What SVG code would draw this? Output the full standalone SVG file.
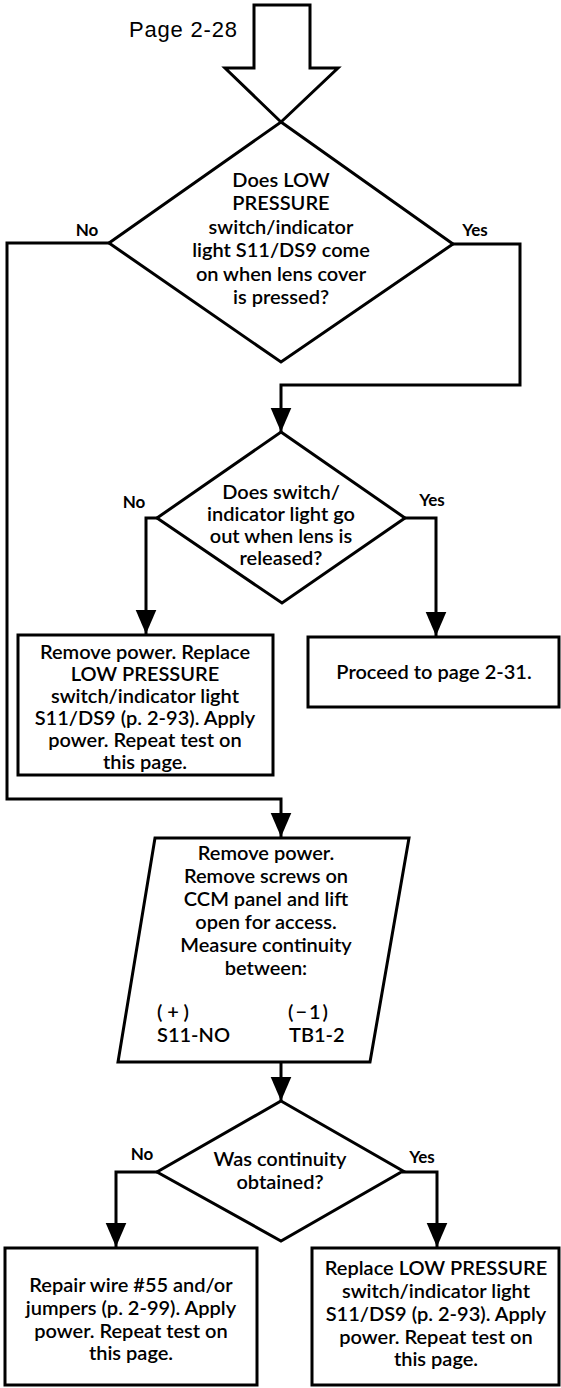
<svg xmlns="http://www.w3.org/2000/svg" width="561" height="1388" viewBox="0 0 561 1388">
<defs>
<style>
.s{fill:#fff;stroke:#000;stroke-width:3;stroke-linejoin:miter}
.c{fill:none;stroke:#000;stroke-width:3}
.t{font-family:Lato,"Open Sans",sans-serif;font-size:20px;font-weight:600;fill:#000;text-anchor:middle}
.u{font-family:Lato,"Open Sans",sans-serif;font-size:20px;font-weight:600;fill:#000}
.l{font-family:Lato,"Open Sans",sans-serif;font-size:17px;font-weight:700;fill:#000;text-anchor:middle}
.p{font-family:"Liberation Sans",Arial,sans-serif;font-size:22px;fill:#000}
</style>
<marker id="ah" viewBox="0 0 28 24" markerWidth="24" markerHeight="28" refX="28" refY="12" orient="auto" markerUnits="userSpaceOnUse">
<path d="M0,0 L28,12 L0,24 z" fill="#000"/>
</marker>
</defs>
<rect width="561" height="1388" fill="#fff"/>

<g id="start">
<text class="p" x="129" y="37" textLength="108">Page 2-28</text>
<path class="s" d="M254,5 L310,5 L310,68 L338,68 L281,122 L225,68 L254,68 Z"/>
</g>

<g id="connectors">
<path class="c" d="M109,243 L7,243 L7,799 L281,799 L281,837" marker-end="url(#ah)"/>
<path class="c" d="M453,244 L520,244 L520,385 L281,385 L281,432" marker-end="url(#ah)"/>
<path class="c" d="M157,518 L146,518 L146,634" marker-end="url(#ah)"/>
<path class="c" d="M405,518 L436,518 L436,636" marker-end="url(#ah)"/>
<path class="c" d="M281,1062 L281,1101" marker-end="url(#ah)"/>
<path class="c" d="M157,1172 L116,1172 L116,1247" marker-end="url(#ah)"/>
<path class="c" d="M402,1172 L437,1172 L437,1247" marker-end="url(#ah)"/>
<text class="l" x="87" y="236">No</text>
<text class="l" x="475" y="236">Yes</text>
<text class="l" x="134" y="508">No</text>
<text class="l" x="432" y="506">Yes</text>
<text class="l" x="142" y="1160">No</text>
<text class="l" x="422" y="1163">Yes</text>
</g>

<g id="d1">
<path class="s" d="M281,122 L453,244 L281,362 L109,243 Z"/>
<text class="t" x="281" y="187">Does LOW</text>
<text class="t" x="281" y="210">PRESSURE</text>
<text class="t" x="281" y="234">switch/indicator</text>
<text class="t" x="281" y="257">light S11/DS9 come</text>
<text class="t" x="281" y="281">on when lens cover</text>
<text class="t" x="281" y="304">is pressed?</text>
</g>

<g id="d2">
<path class="s" d="M281,432 L405,518 L282,603 L157,518 Z"/>
<text class="t" x="281" y="499">Does switch/</text>
<text class="t" x="281" y="521">indicator light go</text>
<text class="t" x="281" y="543">out when lens is</text>
<text class="t" x="281" y="565">released?</text>
</g>

<g id="b1">
<rect class="s" x="18" y="635" width="255" height="140"/>
<text class="t" x="145" y="659">Remove power. Replace</text>
<text class="t" x="145" y="681">LOW PRESSURE</text>
<text class="t" x="145" y="703">switch/indicator light</text>
<text class="t" x="145" y="725">S11/DS9 (p. 2-93). Apply</text>
<text class="t" x="145" y="747">power. Repeat test on</text>
<text class="t" x="145" y="769">this page.</text>
</g>

<g id="b2">
<rect class="s" x="308" y="637" width="251" height="70"/>
<text class="t" x="434" y="679">Proceed to page 2-31.</text>
</g>

<g id="p1">
<path class="s" d="M155,838 L409,838 L370,1062 L118,1062 Z"/>
<text class="t" x="266" y="860">Remove power.</text>
<text class="t" x="266" y="883">Remove screws on</text>
<text class="t" x="266" y="906">CCM panel and lift</text>
<text class="t" x="266" y="929">open for access.</text>
<text class="t" x="266" y="952">Measure continuity</text>
<text class="t" x="266" y="975">between:</text>
<text class="u" x="157" y="1019" textLength="32">(+)</text>
<text class="u" x="157" y="1042">S11-NO</text>
<text class="u" x="288" y="1019" textLength="40">(−1)</text>
<text class="u" x="289" y="1042">TB1-2</text>
</g>

<g id="d3">
<path class="s" d="M281,1101 L403,1171 L281,1241 L157,1172 Z"/>
<text class="t" x="280" y="1166">Was continuity</text>
<text class="t" x="280" y="1189">obtained?</text>
</g>

<g id="b3">
<rect class="s" x="5" y="1248" width="252" height="137"/>
<text class="t" x="131" y="1292">Repair wire #55 and/or</text>
<text class="t" x="131" y="1315">jumpers (p. 2-99). Apply</text>
<text class="t" x="131" y="1338">power. Repeat test on</text>
<text class="t" x="131" y="1360">this page.</text>
</g>

<g id="b4">
<rect class="s" x="312" y="1248" width="247" height="137"/>
<text class="t" x="436" y="1275">Replace LOW PRESSURE</text>
<text class="t" x="436" y="1298">switch/indicator light</text>
<text class="t" x="436" y="1321">S11/DS9 (p. 2-93). Apply</text>
<text class="t" x="436" y="1344">power. Repeat test on</text>
<text class="t" x="436" y="1366">this page.</text>
</g>
</svg>
